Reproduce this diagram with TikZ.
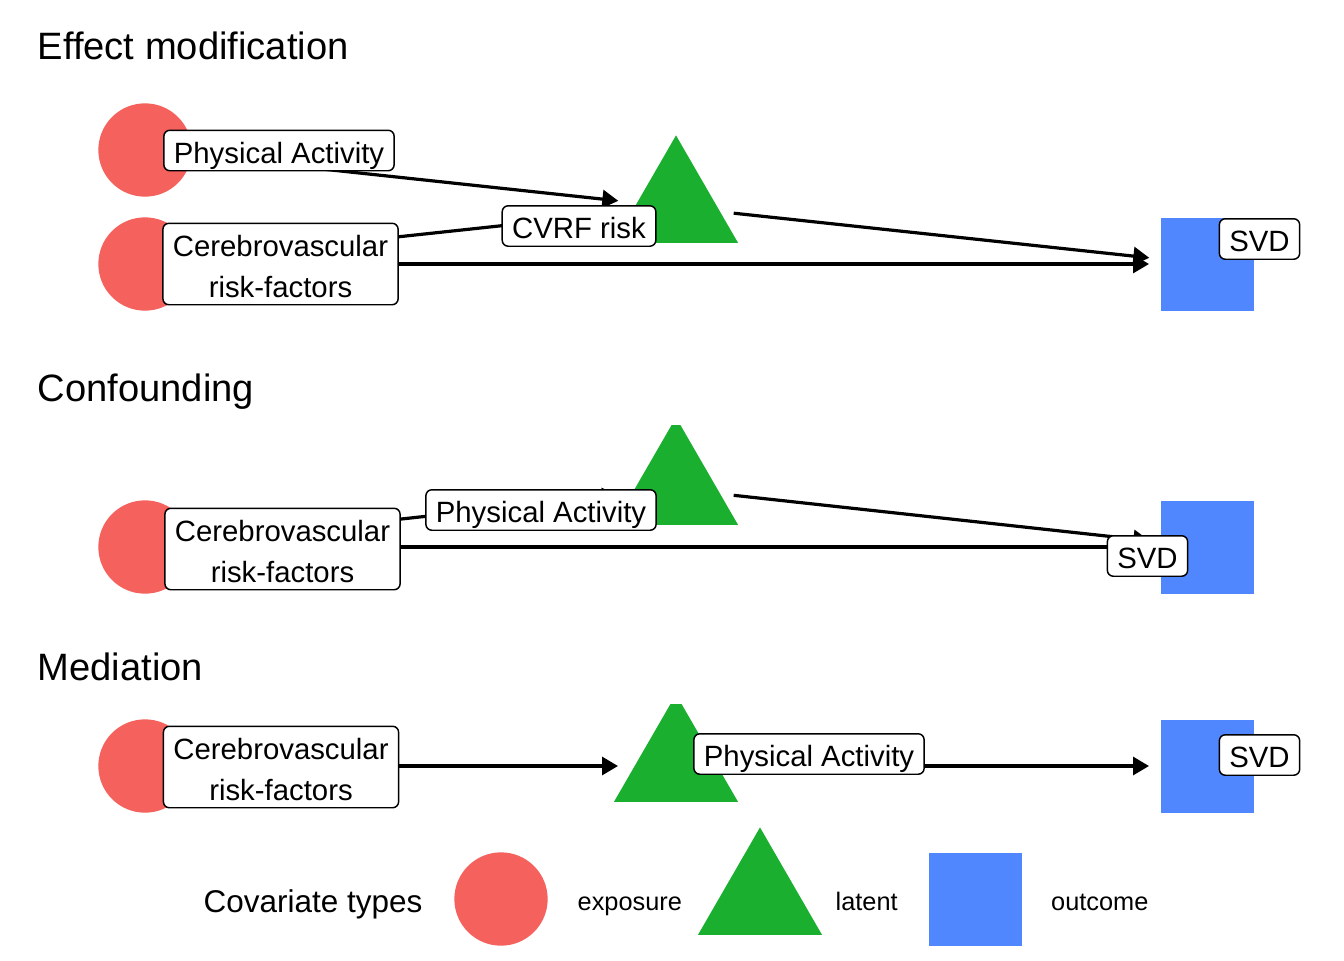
\documentclass[tikz,border=0pt]{standalone}
\usepackage{fontspec}
\setmainfont{Liberation Sans}
\usetikzlibrary{shapes.geometric,arrows.meta}
\definecolor{expred}{HTML}{F5615C}
\definecolor{latgreen}{HTML}{1AAF2E}
\definecolor{outblue}{HTML}{5087FF}
\newcommand{\lblstrut}{\rule[-5.6pt]{0pt}{30.35pt}}
\begin{document}
\begin{tikzpicture}[x=0.75pt, y=-0.75pt, line join=round,
  expo/.style={circle, fill=expred, minimum size=70pt, inner sep=0pt},
  lat/.style={regular polygon, regular polygon sides=3, fill=latgreen, minimum size=107.4pt, inner sep=0pt},
  outc/.style={rectangle, fill=outblue, minimum size=69.75pt, inner sep=0pt},
  lbl/.style={draw, fill=white, rounded corners=4.5pt, line width=1.1pt, align=center,
    inner xsep=7.5pt, inner ysep=0pt, font=\fontsize{22}{30.75}\selectfont},
  edge/.style={line width=2.4pt, -{Triangle[length=12pt,width=13.5pt]}, shorten <=43.5pt, shorten >=43.5pt},
  panel/.style={anchor=base west, font=\fontsize{28.6}{34}\selectfont},
  key/.style={anchor=base west, font=\fontsize{19}{23}\selectfont}]
\useasboundingbox (0,0) rectangle (1344,960);
%Effect modification
\node[panel] (t1) at (33,59.5) {Effect modification};
\node[expo] (pa1) at (145,150) {};
\node[expo] (cv1) at (145,264) {};
\node[lat] (cvrf1) at (676,207) {};
\node[outc] (svd1) at (1207,264) {};
\draw[edge] (pa1.center) -- (cvrf1.center);
\draw[edge] (cv1.center) -- (cvrf1.center);
\draw[edge] (cvrf1.center) -- (svd1.center);
\draw[edge] (cv1.center) -- (svd1.center);
\node[lbl] (lpa1) at (279,150.5) {\lblstrut Physical Activity};
\node[lbl] (lcv1) at (280.5,264) {\lblstrut Cerebrovascular\\risk-factors\lblstrut};
\node[lbl] (lcvrf1) at (579,226) {\lblstrut CVRF risk};
\node[lbl] (lsvd1) at (1259.5,239) {\lblstrut SVD};
%Confounding
\node[panel] (t2) at (33,401) {Confounding};
\node[expo] (cv2) at (145,547) {};
\begin{scope}
\clip (560,425) rectangle (800,540);
\node[lat] (pa2) at (676,489) {};
\end{scope}
\node[outc] (svd2) at (1207,547) {};
\draw[edge] (cv2.center) -- (pa2.center);
\draw[edge] (pa2.center) -- (svd2.center);
\draw[edge] (cv2.center) -- (svd2.center);
\node[lbl] (lcv2) at (282.5,549) {\lblstrut Cerebrovascular\\risk-factors\lblstrut};
\node[lbl] (lpa2) at (541,510) {\lblstrut Physical Activity};
\node[lbl] (lsvd2) at (1147.5,556) {\lblstrut SVD};
%Mediation
\node[panel] (t3) at (33,680) {Mediation};
\node[expo] (cv3) at (145,766) {};
\begin{scope}
\clip (560,704) rectangle (800,820);
\node[lat] (pa3) at (676,766) {};
\end{scope}
\node[outc] (svd3) at (1207,766) {};
\draw[edge] (cv3.center) -- (pa3.center);
\draw[edge] (pa3.center) -- (svd3.center);
\node[lbl] (lcv3) at (281,767) {\lblstrut Cerebrovascular\\risk-factors\lblstrut};
\node[lbl] (lpa3) at (809,754) {\lblstrut Physical Activity};
\node[lbl] (lsvd3) at (1259.5,755) {\lblstrut SVD};
%Legende
\node[anchor=base west, font=\fontsize{23.6}{28}\selectfont] (ktitle) at (199,912) {Covariate types};
\node[expo] (kexp) at (501,899) {};
\node[key] (texp) at (573,910) {exposure};
\node[lat] (klat) at (760,899) {};
\node[key] (tlat) at (831,910) {latent};
\node[outc] (kout) at (975,899) {};
\node[key] (tout) at (1046.5,910) {outcome};
\end{tikzpicture}
\end{document}
